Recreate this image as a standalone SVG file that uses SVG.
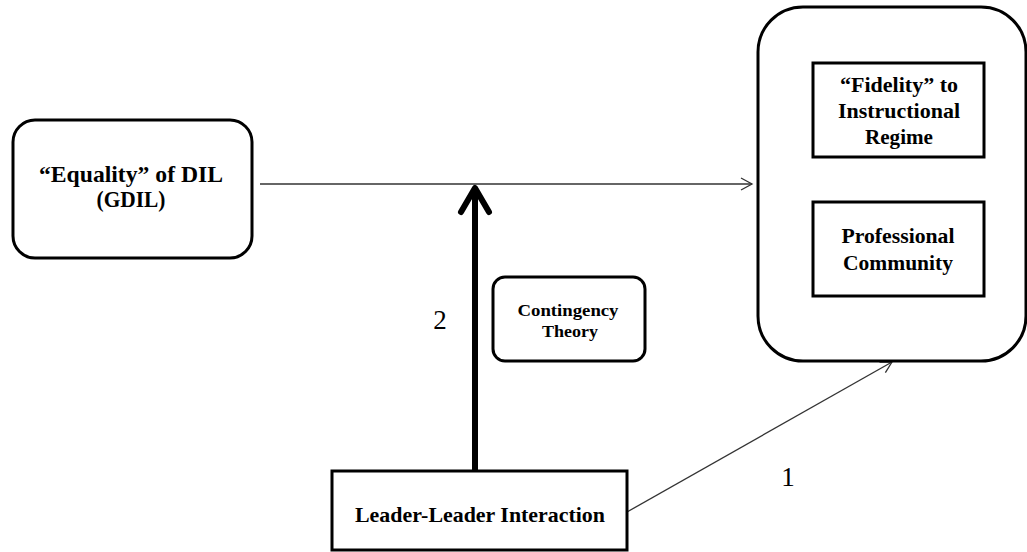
<svg xmlns="http://www.w3.org/2000/svg" width="1027" height="552" viewBox="0 0 1027 552">
<style>
.box{fill:#fff;stroke:#000;stroke-width:3}
.lbl{font-family:"Liberation Serif",serif;font-weight:bold;font-size:21px;text-anchor:middle;fill:#000}
.sm{font-size:17px}
.big{font-size:23px}
.num{font-family:"Liberation Serif",serif;font-size:27px;text-anchor:middle;fill:#000}
.thin{stroke:#333;stroke-width:1.3;fill:none}
</style>
<defs>
<marker id="open" markerWidth="14" markerHeight="14" refX="12" refY="7" orient="auto" markerUnits="userSpaceOnUse">
<path d="M1,1 L12,7 L1,13" fill="none" stroke="#333" stroke-width="1.3"/>
</marker>
</defs>
<rect width="1027" height="552" fill="#fff"/>
<g id="connectors">
<line class="thin" x1="260" y1="184" x2="752" y2="184" marker-end="url(#open)"/>
<line class="thin" x1="627" y1="512" x2="892" y2="362" marker-end="url(#open)"/>
<line x1="475" y1="471" x2="475" y2="188" stroke="#000" stroke-width="6"/>
<path d="M461,212 L475,188 L489,212" fill="none" stroke="#000" stroke-width="6" stroke-linecap="round" stroke-linejoin="round"/>
<text class="num" x="440" y="329">2</text>
<text class="num" x="788" y="486">1</text>
</g>
<g id="gdil">
<rect class="box" x="13" y="120" width="239" height="138" rx="22"/>
<text class="lbl big" x="131" y="182" textLength="184" lengthAdjust="spacingAndGlyphs">“Equality” of DIL</text>
<text class="lbl big" x="131" y="207" textLength="69" lengthAdjust="spacingAndGlyphs">(GDIL)</text>
</g>
<g id="outcomes">
<rect class="box" x="758" y="7" width="268" height="354" rx="45"/>
</g>
<g id="fidelity">
<rect class="box" x="813" y="63" width="171" height="94"/>
<text class="lbl" x="899" y="92" textLength="118" lengthAdjust="spacingAndGlyphs">“Fidelity” to</text>
<text class="lbl" x="899" y="118" textLength="122" lengthAdjust="spacingAndGlyphs">Instructional</text>
<text class="lbl" x="899" y="144" textLength="68" lengthAdjust="spacingAndGlyphs">Regime</text>
</g>
<g id="community">
<rect class="box" x="813" y="202" width="171" height="94"/>
<text class="lbl" x="898" y="243" textLength="113" lengthAdjust="spacingAndGlyphs">Professional</text>
<text class="lbl" x="898" y="270" textLength="110" lengthAdjust="spacingAndGlyphs">Community</text>
</g>
<g id="contingency">
<rect class="box" x="493" y="277" width="152" height="84" rx="12"/>
<text class="lbl sm" x="568" y="316" textLength="101" lengthAdjust="spacingAndGlyphs">Contingency</text>
<text class="lbl sm" x="570" y="337" textLength="56" lengthAdjust="spacingAndGlyphs">Theory</text>
</g>
<g id="leader">
<rect class="box" x="332" y="471" width="295" height="79"/>
<text class="lbl" x="480" y="522" textLength="250" lengthAdjust="spacingAndGlyphs">Leader-Leader Interaction</text>
</g>
</svg>
